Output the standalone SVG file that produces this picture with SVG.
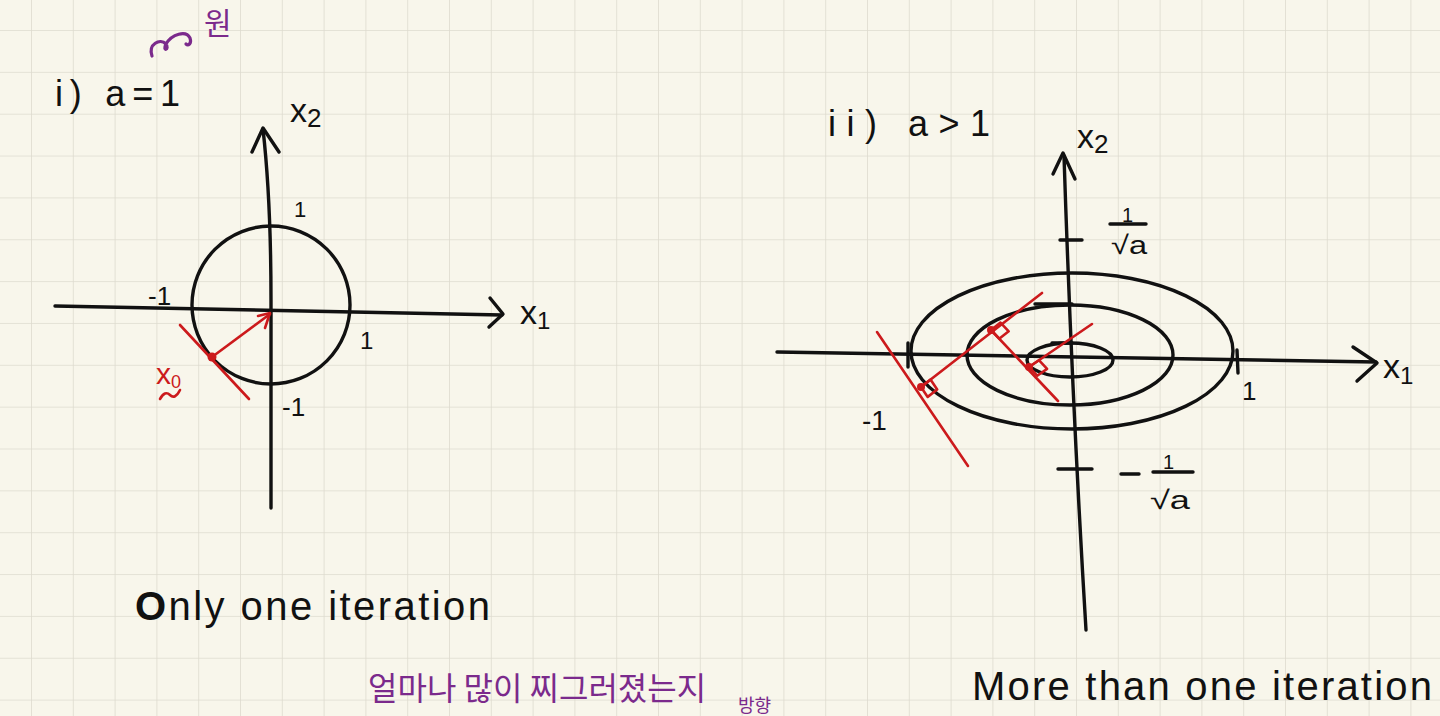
<svg xmlns="http://www.w3.org/2000/svg" width="1440" height="716" viewBox="0 0 1440 716">
<defs>
<pattern id="grid" x="31" y="30" width="41.8" height="41.85" patternUnits="userSpaceOnUse">
<path d="M0,0 V41.85 M0,0 H41.8" fill="none" stroke="#dedbcf" stroke-width="1.6"/>
</pattern>
<style>
.ink{fill:none;stroke:#111;stroke-width:3.4;stroke-linecap:round;stroke-linejoin:round}
.red{fill:none;stroke:#cc1a1c;stroke-width:2.6;stroke-linecap:round;stroke-linejoin:round}
.pur{fill:none;stroke:#7b2a8c;stroke-width:3.2;stroke-linecap:round;stroke-linejoin:round}
.t{font-family:"Liberation Sans","Noto Sans",sans-serif;fill:#111}
.tr{font-family:"Liberation Sans","Noto Sans",sans-serif;fill:#cc1a1c}
.tp{font-family:"Noto Sans CJK KR","Noto Sans",sans-serif;fill:#7b2a8c}
</style>
</defs>
<rect width="1440" height="716" fill="#f8f6eb"/>
<rect width="1440" height="716" fill="url(#grid)"/>

<g id="left-diagram">
<text class="t" x="55" y="106" font-size="36" textLength="125" lengthAdjust="spacing">i) a=1</text>
<path class="pur" d="M152,56 C148,44 160,38 166,44 C170,50 162,52 166,44 C172,34 186,30 190,38 C192,44 188,46 186,44"/>
<text class="tp" x="204" y="34" font-size="30">원</text>
<g id="axes-left">
<path class="ink" d="M263,129 Q271,200 271,300 L271,508"/>
<path class="ink" d="M252,152 L263,128 L279,152"/>
<path class="ink" d="M55,306 L502,315"/>
<path class="ink" d="M490,298 L503,314 L489,327"/>
</g>
<text class="t" x="290" y="122" font-size="34">x<tspan font-size="26" dy="5">2</tspan></text>
<text class="t" x="520" y="324" font-size="34">x<tspan font-size="24" dy="5">1</tspan></text>
<circle id="unit-circle" class="ink" cx="271" cy="305" r="79"/>
<text class="t" x="294" y="217" font-size="22">1</text>
<text class="t" x="148" y="305" font-size="26">-1</text>
<text class="t" x="360" y="349" font-size="24">1</text>
<text class="t" x="282" y="416" font-size="26">-1</text>
<g id="red-left">
<path class="red" d="M180,325 L249,399"/>
<path class="red" d="M212,357 L270,314"/>
<path class="red" d="M258,316 L270,313 L265,328"/>
<circle cx="212" cy="357" r="4.5" fill="#cc1a1c"/>
<text class="tr" x="156" y="384" font-size="30">x<tspan font-size="18" dy="4">0</tspan></text>
<path class="red" d="M160,399 Q165,390 170,395 T180,390"/>
</g>
<text class="t" x="135" y="620" font-size="40" textLength="355" lengthAdjust="spacing"><tspan font-weight="bold">O</tspan>nly one iteration</text>
</g>

<g id="right-diagram">
<text class="t" x="828" y="136" font-size="36" textLength="162" lengthAdjust="spacing">ii) a&gt;1</text>
<g id="axes-right">
<path class="ink" d="M1064,156 Q1072,400 1086,630"/>
<path class="ink" d="M1053,174 L1063,153 L1075,179"/>
<path class="ink" d="M777,352 L1376,362"/>
<path class="ink" d="M1353,347 L1377,363 L1357,381"/>
<path class="ink" d="M1060,240 L1082,240 M1058,469 L1092,469 M1035,304 L1072,304 M1052,343 L1072,343"/>
<path class="ink" d="M908,343 L908,367 M1237,350 L1238,373"/>
</g>
<text class="t" x="1077" y="148" font-size="34">x<tspan font-size="26" dy="5">2</tspan></text>
<text class="t" x="1383" y="378" font-size="34">x<tspan font-size="24" dy="6">1</tspan></text>
<g id="frac-top">
<text class="t" x="1122" y="222" font-size="20">1</text>
<path class="ink" d="M1110,224 L1146,224" stroke-width="3"/>
<text class="t" x="1111" y="254" font-size="26" textLength="36" lengthAdjust="spacingAndGlyphs">√a</text>
</g>
<g id="frac-bottom">
<path class="ink" d="M1121,474 L1139,474" stroke-width="3"/>
<text class="t" x="1163" y="469" font-size="20">1</text>
<path class="ink" d="M1153,472 L1193,472" stroke-width="3"/>
<text class="t" x="1150" y="509" font-size="26" textLength="40" lengthAdjust="spacingAndGlyphs">√a</text>
</g>
<text class="t" x="862" y="430" font-size="28">-1</text>
<text class="t" x="1242" y="400" font-size="26">1</text>
<g id="contours">
<ellipse class="ink" cx="1072" cy="351" rx="161" ry="78"/>
<ellipse class="ink" cx="1070" cy="355" rx="103" ry="50"/>
<ellipse class="ink" cx="1070" cy="360" rx="43" ry="17"/>
</g>
<g id="red-right">
<path class="red" d="M877,332 L968,466"/>
<path class="red" d="M921,387 L1042,293"/>
<path class="red" d="M991,330 L1058,401"/>
<path class="red" d="M1029,367 L1092,324"/>
<path class="red" d="M921,387 L930.5,379.6 L937.2,389.5 L927.7,396.9 Z"/>
<path class="red" d="M991,330 L1000.5,322.6 L1008.7,331.3 L999.2,338.7 Z"/>
<path class="red" d="M1029,367 L1038.9,360.2 L1047.1,368.9 L1037.2,375.7 Z"/>
<circle cx="921" cy="387" r="4" fill="#cc1a1c"/>
<circle cx="991" cy="330" r="4" fill="#cc1a1c"/>
<circle cx="1029" cy="367" r="4" fill="#cc1a1c"/>
</g>
<text class="t" x="972" y="700" font-size="40" textLength="460" lengthAdjust="spacing">More than one iteration</text>
</g>

<g id="purple-note">
<text class="tp" x="368" y="700" font-size="32">얼마나 많이 찌그러졌는지</text>
<text class="tp" x="738" y="712" font-size="18">방향</text>
</g>
</svg>
